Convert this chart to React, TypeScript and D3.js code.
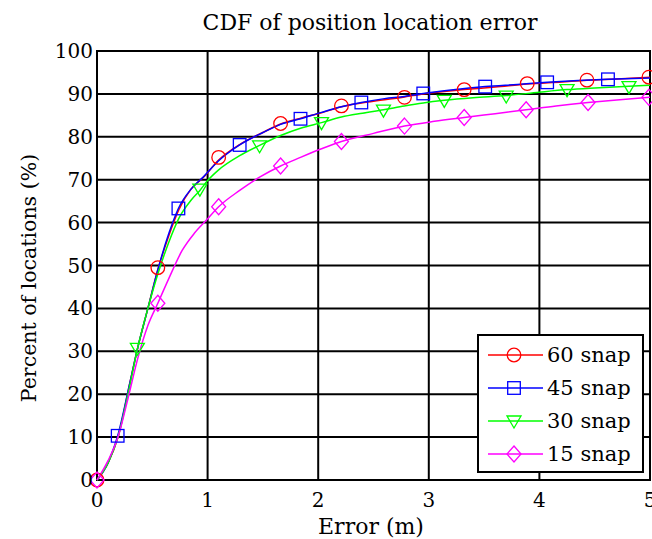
import React from "react";
import * as d3 from "d3";

type P = [number, number];

// ---- data ----
const seriesNames = ["60 snap", "45 snap", "30 snap", "15 snap"];
const seriesColors = ["#ff0000", "#0000ff", "#00ff00", "#ff00ff"];
const markerTypes = ["circle", "square", "triangle", "diamond"];

const xTicks = [0, 1, 2, 3, 4, 5];
const yTicks = [0, 10, 20, 30, 40, 50, 60, 70, 80, 90, 100];

const line60: P[] = [[0,0],[0.1,4],[0.19,10],[0.3,23],[0.37,31],[0.46,40],[0.55,49],[0.65,57],[0.74,63],[0.85,67.8],[0.96,70.5],[1.1,74.6],[1.29,78.2],[1.5,81],[1.66,83],[1.85,84.4],[2.03,85.6],[2.21,87],[2.5,88.3],[2.78,89.3],[2.95,90],[3.32,91],[3.6,91.6],[3.89,92.3],[4.2,92.8],[4.43,93.2],[4.7,93.5],[5,93.9]];
const line45: P[] = [[0,0],[0.1,4],[0.187,10.3],[0.3,23],[0.37,31],[0.46,40],[0.55,49],[0.65,57.5],[0.736,63.3],[0.85,67.8],[0.96,70.6],[1.1,74.4],[1.29,78.1],[1.5,81],[1.66,82.9],[1.84,84.2],[2.03,85.7],[2.21,87],[2.39,88],[2.6,88.9],[2.78,89.4],[2.95,90.1],[3.2,90.9],[3.51,91.7],[3.8,92.2],[4.07,92.7],[4.35,93.1],[4.62,93.4],[5,93.7]];
const line30: P[] = [[0,0],[0.1,4],[0.19,10],[0.28,20],[0.365,30.5],[0.46,40],[0.55,48],[0.65,55.5],[0.74,61],[0.85,65.2],[0.93,67.5],[1.0,69.8],[1.1,72.3],[1.29,75.6],[1.47,78],[1.66,80.3],[1.84,82],[2.03,83.3],[2.21,84.6],[2.4,85.5],[2.59,86.3],[2.78,87.2],[2.95,87.9],[3.14,88.5],[3.4,89.1],[3.7,89.6],[4.0,90.4],[4.25,91],[4.5,91.4],[4.81,91.8],[5,92]];
const line15: P[] = [[0,0],[0.1,4.5],[0.19,10],[0.28,19],[0.365,28],[0.46,36],[0.55,41.2],[0.65,47],[0.77,53.5],[0.88,57.5],[0.99,60.6],[1.1,63.7],[1.29,67.5],[1.47,70.6],[1.66,73.2],[1.84,75.2],[2.03,77.2],[2.21,78.9],[2.5,80.8],[2.78,82.5],[3.05,83.6],[3.32,84.5],[3.6,85.4],[3.88,86.3],[4.15,87.2],[4.44,88],[4.7,88.6],[5,89.2]];

const marks60: P[] = [[0,0],[0.55,49.5],[1.1,75.2],[1.66,83.1],[2.21,87.2],[2.78,89.2],[3.32,91],[3.89,92.4],[4.43,93.2],[4.99,93.9]];
const marks45: P[] = [[0.187,10.3],[0.736,63.3],[1.29,78.1],[1.84,84.2],[2.39,88],[2.95,90.1],[3.51,91.7],[4.07,92.7],[4.62,93.4]];
const marks30: P[] = [[0.365,30.7],[0.93,67.8],[1.47,77.9],[2.03,83.3],[2.59,86.2],[3.14,88.5],[3.7,89.5],[4.25,91],[4.81,91.7]];
const marks15: P[] = [[0,0],[0.55,41.2],[1.1,63.7],[1.66,73.2],[2.21,78.9],[2.78,82.5],[3.32,84.5],[3.88,86.3],[4.44,88],[4.99,89.2]];

const lines = [line60, line45, line30, line15];
const marks = [marks60, marks45, marks30, marks15];

const W = 652, H = 539;
const M = { left: 97, right: 650, top: 51, bottom: 480 };
const FONT = "'DejaVu Serif', serif";

function Marker({ type, x, y, color }: { type: string; x: number; y: number; color: string }) {
  const sw = 1.3;
  if (type === "circle") return <circle cx={x} cy={y} r={6.8} fill="none" stroke={color} strokeWidth={sw} />;
  if (type === "square") return <rect x={x - 6.3} y={y - 6.3} width={12.6} height={12.6} fill="none" stroke={color} strokeWidth={sw} />;
  if (type === "triangle") return <path d={`M${x - 7},${y - 5} L${x + 7},${y - 5} L${x},${y + 7} Z`} fill="none" stroke={color} strokeWidth={sw} />;
  return <path d={`M${x},${y - 8} L${x + 7},${y} L${x},${y + 8} L${x - 7},${y} Z`} fill="none" stroke={color} strokeWidth={sw} />;
}

export default function App() {
  const x = d3.scaleLinear().domain([0, 5]).range([M.left, M.right]);
  const y = d3.scaleLinear().domain([0, 100]).range([M.bottom, M.top]);
  const lineGen = d3.line<P>().x(d => x(d[0])).y(d => y(d[1])).curve(d3.curveMonotoneX);

  const lg = { x: 478, y: 335, w: 165, h: 137 };
  const rowH = 33;

  return (
    <svg width={W} height={H} style={{ position: "absolute", left: 0, top: 0, background: "#fff" }} fontFamily={FONT}>
      <rect x={0} y={0} width={W} height={H} fill="#fff" />
      {/* grid */}
      {xTicks.map(t => (
        <line key={"gx" + t} x1={x(t)} x2={x(t)} y1={y(0)} y2={y(100)} stroke="#000" strokeWidth={2} />
      ))}
      {yTicks.map(t => (
        <line key={"gy" + t} x1={x(0)} x2={x(5)} y1={y(t)} y2={y(t)} stroke="#000" strokeWidth={2} />
      ))}
      <rect x={M.left} y={M.top} width={M.right - M.left} height={M.bottom - M.top} fill="none" stroke="#000" strokeWidth={2} />

      {/* lines */}
      {lines.map((l, i) => (
        <path key={"l" + i} d={lineGen(l) || ""} fill="none" stroke={seriesColors[i]} strokeWidth={1.5} />
      ))}
      {marks.map((ms, i) =>
        ms.map((m, j) => <Marker key={`m${i}-${j}`} type={markerTypes[i]} x={x(m[0])} y={y(m[1])} color={seriesColors[i]} />)
      )}

      {/* tick labels */}
      {yTicks.map(t => (
        <text key={"ty" + t} x={M.left - 4} y={y(t)} textAnchor="end" dominantBaseline="central" fontSize={20} fill="#000">{t}</text>
      ))}
      {xTicks.map(t => (
        <text key={"tx" + t} x={x(t)} y={M.bottom + 20} textAnchor="middle" dominantBaseline="central" fontSize={20} fill="#000">{t}</text>
      ))}

      {/* titles */}
      <text x={370} y={22} textAnchor="middle" dominantBaseline="central" fontSize={22} fill="#000">CDF of position location error</text>
      <text x={371} y={526} textAnchor="middle" dominantBaseline="central" fontSize={22} fill="#000">Error (m)</text>
      <text transform={`translate(29,278) rotate(-90)`} textAnchor="middle" dominantBaseline="central" fontSize={20.5} fill="#000">Percent of locations (%)</text>

      {/* legend */}
      <rect x={lg.x} y={lg.y} width={lg.w} height={lg.h} fill="#fff" stroke="#000" strokeWidth={2} />
      {seriesNames.map((n, i) => {
        const cy = lg.y + 20 + i * rowH;
        return (
          <g key={"lg" + i}>
            <line x1={lg.x + 10} x2={lg.x + 65} y1={cy} y2={cy} stroke={seriesColors[i]} strokeWidth={1.5} />
            <Marker type={markerTypes[i]} x={lg.x + 36} y={cy} color={seriesColors[i]} />
            <text x={lg.x + 69} y={cy} dominantBaseline="central" fontSize={21} fill="#000">{n}</text>
          </g>
        );
      })}
    </svg>
  );
}
